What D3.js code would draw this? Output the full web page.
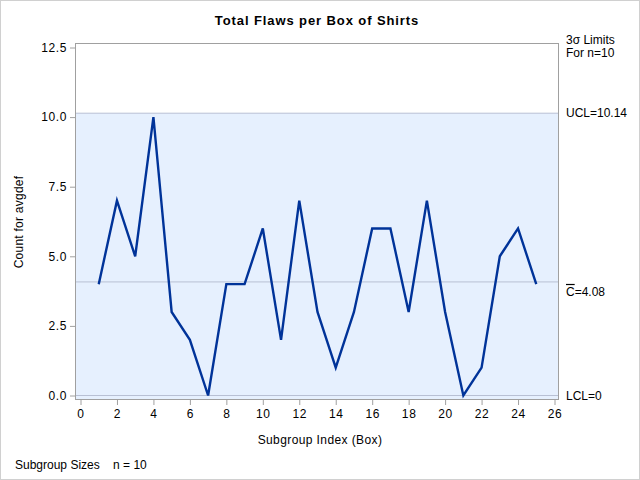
<!DOCTYPE html>
<html><head><meta charset="utf-8">
<script src="https://cdn.jsdelivr.net/npm/d3@7"></script>
<style>body{margin:0;background:#fff}text{font-family:"Liberation Sans",Arial,sans-serif}</style>
</head><body><svg id="c" width="640" height="480"></svg>
<script>
const subgroups = d3.range(1, 26);
const flaws = [4,7,5,10,3,2,0,4,4,6,2,7,3,1,3,6,6,3,7,3,0,1,5,6,4];
const yTicks = [0, 2.5, 5, 7.5, 10, 12.5];
const xTicks = d3.range(0, 27, 2);
const ucl = 10.14, cbar = 4.08, lcl = 0;
const title = "Total Flaws per Box of Shirts";

const svg = d3.select("#c");
const F = {l:75, r:559, t:43, b:400};
const x = d3.scaleLinear().domain([0,26]).range([80.5,554.5]);
const y = d3.scaleLinear().domain([0,12.5]).range([395.5,47.5]);

svg.append("rect").attr("x",0.5).attr("y",0.5).attr("width",639).attr("height",479)
  .attr("fill","#fff").attr("stroke","#d0d0d0");

// limits band
svg.append("rect").attr("x",F.l).attr("y",y(ucl)).attr("width",F.r-F.l).attr("height",F.b-y(ucl))
  .attr("fill","#e6f0fe");
[ucl, cbar, lcl].forEach(v=>{
  svg.append("line").attr("x1",F.l).attr("x2",F.r).attr("y1",y(v)).attr("y2",y(v))
    .attr("stroke","#b8c0d4").attr("stroke-width",1);
});

// frame
svg.append("rect").attr("x",F.l+0.5).attr("y",F.t+0.5).attr("width",F.r-F.l-1).attr("height",F.b-F.t-1)
  .attr("fill","none").attr("stroke","#a0a0a0");

// axes
const ya = svg.append("g").attr("transform",`translate(${F.l},0)`)
  .call(d3.axisLeft(y).tickValues(yTicks).tickFormat(d3.format(".1f")).tickSize(5).tickPadding(3));
const xa = svg.append("g").attr("transform",`translate(0,${F.b})`)
  .call(d3.axisBottom(x).tickValues(xTicks).tickSize(5).tickPadding(4));
[ya,xa].forEach(a=>{
  a.select(".domain").remove();
  a.selectAll(".tick line").attr("stroke","#a0a0a0");
  a.selectAll("text").attr("fill","#000").style("font-size","12px")
   .style("letter-spacing","0.6px").style("font-family","'Liberation Sans',Arial,sans-serif");
});

// line
svg.append("path").datum(flaws)
  .attr("d", d3.line().x((d,i)=>x(subgroups[i])).y(d=>y(d)))
  .attr("fill","none").attr("stroke","#003399").attr("stroke-width",2.4).attr("stroke-linejoin","miter");

// texts
svg.append("text").attr("x",317).attr("y",25).attr("text-anchor","middle")
  .style("font-size","13px").style("font-weight","bold").style("letter-spacing","0.9px").text(title);
svg.append("text").attr("transform","translate(23,222) rotate(-90)").attr("text-anchor","middle")
  .style("font-size","12px").style("letter-spacing","0.25px").text("Count for avgdef");
svg.append("text").attr("x",320).attr("y",444).attr("text-anchor","middle")
  .style("font-size","12px").style("letter-spacing","0.4px").text("Subgroup Index (Box)");
svg.append("text").attr("x",15).attr("y",469).style("font-size","12px").attr("xml:space","preserve")
  .text("Subgroup Sizes    n = 10");

const rx = 566;
svg.append("text").attr("x",rx).attr("y",44).style("font-size","12px").text("3σ Limits");
svg.append("text").attr("x",rx).attr("y",57).style("font-size","12px").text("For n=10");
svg.append("text").attr("x",rx).attr("y",y(ucl)+4).style("font-size","12px").text("UCL=" + ucl.toFixed(2));
const ct = svg.append("text").attr("x",rx).attr("y",y(cbar)+4+10).style("font-size","12px");
ct.append("tspan").style("text-decoration","overline").text("C");
ct.append("tspan").text("=" + cbar.toFixed(2));
svg.append("text").attr("x",rx).attr("y",y(lcl)+4).style("font-size","12px").text("LCL=" + lcl);
</script></body></html>
